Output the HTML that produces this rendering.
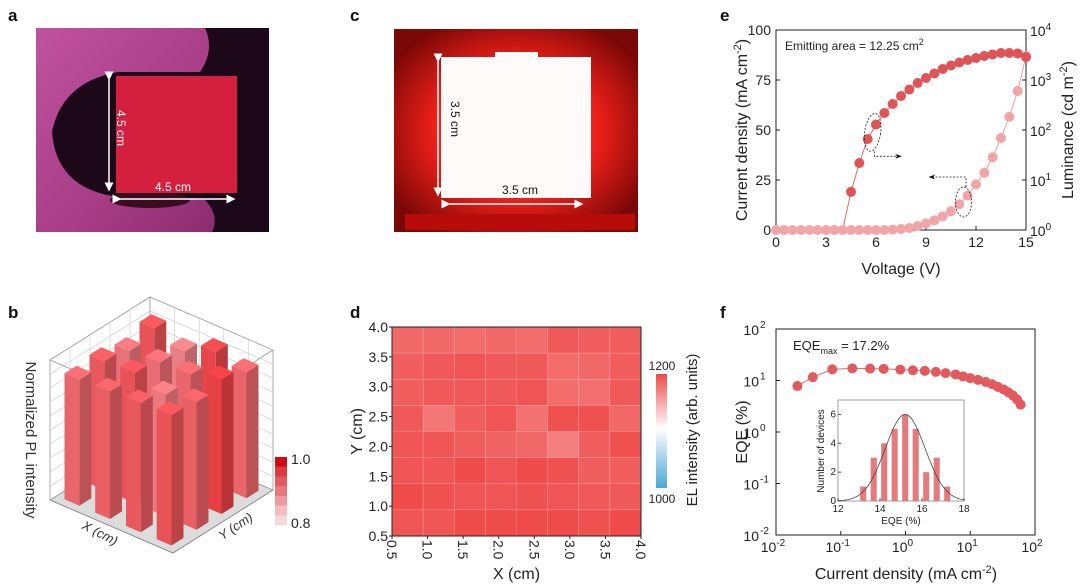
<!DOCTYPE html>
<html><head><meta charset="utf-8"><style>
html,body{margin:0;padding:0;background:#fff}
svg{display:block;font-family:"Liberation Sans",Arial,sans-serif}
</style></head><body>
<svg id="fig" width="1080" height="588" viewBox="0 0 1080 588" xmlns="http://www.w3.org/2000/svg">
<defs>
<linearGradient id="gloveG" x1="0" y1="0" x2="1" y2="1"><stop offset="0" stop-color="#c052a0"/><stop offset="0.6" stop-color="#a83c86"/><stop offset="1" stop-color="#8c2c70"/></linearGradient>
<radialGradient id="cGlow" cx="0.5" cy="0.5" r="0.6"><stop offset="0.55" stop-color="#f0201a"/><stop offset="1" stop-color="#7a0806"/></radialGradient>
<linearGradient id="elBar" x1="0" y1="0" x2="0" y2="1"><stop offset="0" stop-color="#ee4a4a"/><stop offset="0.48" stop-color="#ffffff"/><stop offset="1" stop-color="#4aa6d6"/></linearGradient>
<marker id="arrH" markerWidth="6" markerHeight="6" refX="5" refY="3" orient="auto"><path d="M0,0 L6,3 L0,6 Z" fill="#fff"/></marker>
<marker id="arrB" markerWidth="8" markerHeight="6" refX="7" refY="3" orient="auto"><path d="M0,0 L8,3 L0,6 L2,3 Z" fill="#111"/></marker>
</defs>

<g font-weight="bold" font-size="17" fill="#111">
<text x="8" y="21">a</text>
<text x="350" y="21">c</text>
<text x="720" y="21">e</text>
<text x="8" y="318">b</text>
<text x="350" y="318">d</text>
<text x="720" y="318">f</text>
</g>

<g>
<rect x="36" y="28" width="233" height="204" fill="#1c0818"/>
<path d="M36,28 L205,28 Q215,50 200,72 L118,72 Q62,82 52,132 Q56,186 112,196 L205,200 Q220,216 212,232 L36,232 Z" fill="url(#gloveG)"/>
<ellipse cx="150" cy="200" rx="40" ry="8" fill="#3a0c20"/>
<rect x="116" y="76" width="121" height="117" fill="#d4203e"/>
<line x1="109" y1="79" x2="109" y2="190" stroke="#fff" stroke-width="1.5" marker-end="url(#arrH)" marker-start="url(#arrH)"/>
<line x1="120" y1="199" x2="234" y2="199" stroke="#fff" stroke-width="1.5" marker-end="url(#arrH)" marker-start="url(#arrH)"/>
<text x="155" y="191" font-size="12" fill="#fff">4.5 cm</text>
<text transform="translate(117,110) rotate(90)" font-size="12" fill="#fff">4.5 cm</text>
</g>

<g>
<rect x="394" y="29" width="244" height="203" fill="url(#cGlow)"/>
<rect x="405" y="214" width="230" height="16" fill="#b80c0a"/>
<rect x="441" y="57" width="150" height="141" fill="#fffafa"/>
<rect x="495" y="52" width="43" height="6" fill="#fffafa"/>
<line x1="438" y1="61" x2="438" y2="195" stroke="#fff" stroke-width="1.5" marker-end="url(#arrH)" marker-start="url(#arrH)"/>
<line x1="449" y1="204" x2="582" y2="204" stroke="#fff" stroke-width="1.5" marker-end="url(#arrH)" marker-start="url(#arrH)"/>
<text x="502" y="194" font-size="12" fill="#111">3.5 cm</text>
<text transform="translate(451,101) rotate(90)" font-size="12" fill="#111">3.5 cm</text>
</g>

<g id="panelB"></g>
<g id="panelD"></g>
<g id="panelE"></g>
<g id="panelF"></g>
</svg>
<script>
const NS="http://www.w3.org/2000/svg";
function mk(parent,tag,attrs,text){const e=document.createElementNS(NS,tag);for(const k in attrs)e.setAttribute(k,attrs[k]);if(text!==undefined)e.textContent=text;parent.appendChild(e);return e;}

const eVoltage=[0,0.5,1,1.5,2,2.5,3,3.5,4,4.5,5,5.5,6,6.5,7,7.5,8,8.5,9,9.5,10,10.5,11,11.5,12,12.5,13,13.5,14,14.5,15];
const eCurrent=[0,0,0,0,0,0,0,0,0,0,0,0,0,0,0.2,0.5,1,2,3.3,4.8,6.8,9.4,12.9,17.2,22.8,28.6,36.4,46,56.6,69.5,87];
const eLumVoltage=[4,4.5,5,5.5,6,6.5,7,7.5,8,8.5,9,9.5,10,10.5,11,11.5,12,12.5,13,13.5,14,14.5,15];
const eLuminance=[1,5.8,21.9,66,129,219,331,479,646,871,1096,1349,1660,1950,2240,2510,2750,3020,3240,3470,3470,3390,2880];
const eXTicks=[0,3,6,9,12,15];
const eYTicks=[0,25,50,75,100];
const eY2Exp=[0,1,2,3,4];

const fCurrent=[0.0214,0.037,0.074,0.151,0.284,0.46,0.83,1.30,1.99,2.94,4.16,5.93,7.71,10.0,13.2,17.3,21.6,26.8,32.7,38.7,45.7,52.7,60];
const fEQE=[7.8,11.6,16.5,17.2,17.0,16.8,16.3,15.8,15.4,14.7,13.9,13.1,12.0,11.1,10.3,9.4,8.5,7.5,6.7,5.9,5.1,4.3,3.4];
const fXExp=[-2,-1,0,1,2];
const fYExp=[-2,-1,0,1,2];
const histEQE=[13.2,13.7,14.2,14.7,15.2,15.7,16.2,16.7,17.2];
const histCount=[1,3,4,5,6,5,2,3,1];
const histXTicks=[12,14,16,18];
const histYTicks=[0,2,4,6];
const fitMean=15.2, fitSigma=0.95, fitPeak=6;

const dXTicks=[0.5,1.0,1.5,2.0,2.5,3.0,3.5,4.0];
const dYTicks=[0.5,1.0,1.5,2.0,2.5,3.0,3.5,4.0];
const dRows=[
[1180,1180,1178,1180,1178,1188,1185,1185],
[1185,1188,1190,1188,1188,1178,1180,1185],
[1185,1188,1188,1188,1190,1178,1176,1188],
[1188,1172,1185,1190,1175,1192,1192,1180],
[1190,1190,1185,1182,1180,1168,1185,1192],
[1190,1190,1195,1190,1195,1192,1185,1185],
[1195,1192,1190,1190,1192,1190,1188,1188],
[1190,1190,1195,1195,1195,1195,1192,1195]];

const bPL=[
[0.93,0.86,0.95,0.90],
[0.88,0.89,0.90,0.96],
[0.92,0.93,0.87,0.91],
[0.90,0.91,0.92,0.93]];

(function(){
const g=document.getElementById('panelE');
const L=776,R=1026,T=30,B=230;
const xs=v=>L+(v-0)/15*(R-L);
const ys=v=>B-(v/100)*(B-T);
const ys2=v=>B-(Math.log10(v)/4)*(B-T);
const f=mk(g,'rect',{x:L,y:T,width:R-L,height:B-T,fill:'none',stroke:'#222','stroke-width':1});

eXTicks.forEach(t=>{const x=xs(t);mk(g,'line',{x1:x,y1:B,x2:x,y2:B-4,stroke:'#222'});
 const tx=mk(g,'text',{x:x,y:B+17,'font-size':14,'text-anchor':'middle',fill:'#222'},String(t));
 });
eYTicks.forEach(t=>{const y=ys(t);mk(g,'line',{x1:L,y1:y,x2:L+4,y2:y,stroke:'#222'});
 const tx=mk(g,'text',{x:L-5,y:y+5,'font-size':14,'text-anchor':'end',fill:'#222'},String(t));
 });
eY2Exp.forEach(t=>{const y=B-t/4*(B-T);mk(g,'line',{x1:R,y1:y,x2:R-4,y2:y,stroke:'#222'});
 const tx=mk(g,'text',{x:R+4,y:y+6,'font-size':14,fill:'#222'});
 
 mk(tx,'tspan',{},'10');mk(tx,'tspan',{dy:-6,'font-size':10},String(t));});
let t1=mk(g,'text',{x:(L+R)/2,y:274,'font-size':16,'text-anchor':'middle',fill:'#222'},'Voltage (V)');

let t2=mk(g,'text',{transform:'translate(747,130) rotate(-90)','font-size':16,'text-anchor':'middle',fill:'#222'});

mk(t2,'tspan',{},'Current density (mA cm');mk(t2,'tspan',{dy:-6,'font-size':11},'-2');mk(t2,'tspan',{dy:6},')');
let t3=mk(g,'text',{transform:'translate(1073,130) rotate(-90)','font-size':16,'text-anchor':'middle',fill:'#222'});

mk(t3,'tspan',{},'Luminance (cd m');mk(t3,'tspan',{dy:-6,'font-size':11},'-2');mk(t3,'tspan',{dy:6},')');
let t4=mk(g,'text',{x:785,y:50,'font-size':12,fill:'#222'});

mk(t4,'tspan',{},'Emitting area = 12.25 cm');mk(t4,'tspan',{dy:-5,'font-size':9},'2');
const lp=eLumVoltage.map((v,i)=>xs(v)+','+ys2(eLuminance[i])).join(' ');
const l1=mk(g,'polyline',{points:lp,fill:'none',stroke:'#d86a6a','stroke-width':1});

const cp=eVoltage.map((v,i)=>xs(v)+','+ys(eCurrent[i])).join(' ');
const l2=mk(g,'polyline',{points:cp,fill:'none',stroke:'#eba0a0','stroke-width':1});

eVoltage.forEach((v,i)=>{const c=mk(g,'circle',{cx:xs(v),cy:ys(eCurrent[i]),r:5,fill:'#f2a4a6'});
 });
eLumVoltage.forEach((v,i)=>{if(eLuminance[i]<=1)return;const c=mk(g,'circle',{cx:xs(v),cy:ys2(eLuminance[i]),r:5,fill:'#e05458'});
 });
const e1=mk(g,'ellipse',{cx:xs(5.8),cy:ys2(90),rx:8,ry:19,transform:`rotate(8 ${xs(5.8)} ${ys2(90)})`,fill:'none',stroke:'#222','stroke-width':0.8,'stroke-dasharray':'2,1.5'});

mk(g,'polyline',{points:`${xs(5.9)},${ys2(90)+19} ${xs(5.9)},${ys2(90)+24} ${xs(7.5)},${ys2(90)+24}`,fill:'none',stroke:'#222','stroke-width':0.8,'stroke-dasharray':'2,1.5','marker-end':'url(#arrB)'});
const e2=mk(g,'ellipse',{cx:xs(11.25),cy:ys(14),rx:8,ry:15,fill:'none',stroke:'#222','stroke-width':0.8,'stroke-dasharray':'2,1.5'});

mk(g,'polyline',{points:`${xs(11.4)},${ys(14)-15} ${xs(11.4)},${ys(26.5)} ${xs(9.2)},${ys(26.5)}`,fill:'none',stroke:'#222','stroke-width':0.8,'stroke-dasharray':'2,1.5','marker-end':'url(#arrB)'});
})();

(function(){
const g=document.getElementById('panelF');
const L=776,R=1035,T=329,B=535;
const xs=v=>L+(Math.log10(v)+2)/4*(R-L);
const ys=v=>B-(Math.log10(v)+2)/4*(B-T);
const f=mk(g,'rect',{x:L,y:T,width:R-L,height:B-T,fill:'none',stroke:'#222'});

fXExp.forEach(t=>{const x=L+(t+2)/4*(R-L);mk(g,'line',{x1:x,y1:B,x2:x,y2:B-4,stroke:'#222'});
 const tx=mk(g,'text',{x:x-3,y:B+17,'font-size':14,'text-anchor':'middle',fill:'#222'});
 
 mk(tx,'tspan',{},'10');mk(tx,'tspan',{dy:-6,'font-size':10},String(t));});
fYExp.forEach(t=>{const y=B-(t+2)/4*(B-T);mk(g,'line',{x1:L,y1:y,x2:L+4,y2:y,stroke:'#222'});
 const tx=mk(g,'text',{x:L-17,y:y+6,'font-size':14,'text-anchor':'end',fill:'#222'},'10');
 
 const sp=mk(g,'text',{x:L-16,y:y-1,'font-size':10,fill:'#222'},String(t));
 });
let t1=mk(g,'text',{x:906,y:579,'font-size':16,'text-anchor':'middle',fill:'#222'});

mk(t1,'tspan',{},'Current density (mA cm');mk(t1,'tspan',{dy:-6,'font-size':11},'-2');mk(t1,'tspan',{dy:6},')');
let t2=mk(g,'text',{transform:'translate(747,432) rotate(-90)','font-size':16,'text-anchor':'middle',fill:'#222'},'EQE (%)');

let t3=mk(g,'text',{x:793,y:350,'font-size':13,fill:'#222'});

mk(t3,'tspan',{},'EQE');mk(t3,'tspan',{dy:4,'font-size':9},'max');mk(t3,'tspan',{dy:-4},' = 17.2%');
const pts=fCurrent.map((v,i)=>xs(v)+','+ys(fEQE[i])).join(' ');
const ln=mk(g,'polyline',{points:pts,fill:'none',stroke:'#e06a6a','stroke-width':1});

fCurrent.forEach((v,i)=>{const c=mk(g,'circle',{cx:xs(v),cy:ys(fEQE[i]),r:5,fill:'#e35a5e'});
 });
const iL=838,iR=964,iT=400,iB=501;
const hx=v=>iL+(v-12)/6*(iR-iL);
const hy=v=>iB-v/7*(iB-iT);
const ib=mk(g,'rect',{x:iL,y:iT,width:iR-iL,height:iB-iT,fill:'#fff',stroke:'#888','stroke-width':0.8});

histEQE.forEach((v,i)=>{const w=0.29/6*(iR-iL);const r=mk(g,'rect',{x:hx(v)-w/2,y:hy(histCount[i]),width:w,height:iB-hy(histCount[i]),fill:'#e57a7e'});
 });
let gp=[];for(let k=0;k<=60;k++){const x=12+k*0.1;gp.push(hx(x)+','+hy(fitPeak*Math.exp(-Math.pow(x-fitMean,2)/(2*fitSigma*fitSigma))));}
const fit=mk(g,'polyline',{points:gp.join(' '),fill:'none',stroke:'#444','stroke-width':0.8});

histXTicks.forEach(t=>{const x=hx(t);mk(g,'line',{x1:x,y1:iB,x2:x,y2:iB-3,stroke:'#444'});
 const tx=mk(g,'text',{x:x,y:iB+11,'font-size':10,'text-anchor':'middle',fill:'#222'},String(t));
 });
histYTicks.forEach(t=>{const y=hy(t);mk(g,'line',{x1:iL,y1:y,x2:iL+3,y2:y,stroke:'#444'});
 const tx=mk(g,'text',{x:iL-2,y:y+3,'font-size':10,'text-anchor':'end',fill:'#222'},String(t));
 });
let t5=mk(g,'text',{x:901,y:524,'font-size':10,'text-anchor':'middle',fill:'#222'},'EQE (%)');

let t6=mk(g,'text',{transform:'translate(824,451) rotate(-90)','font-size':10,'text-anchor':'middle',fill:'#222'},'Number of devices');

})();

(function(){
const g=document.getElementById('panelD');
const L=392,R=641,T=327,B=536;
const xs=v=>L+(v-0.5)/3.5*(R-L);
const ys=v=>B-(v-0.5)/3.5*(B-T);
function col(v){const t=(v-1000)/200;let a,b,s;
 if(t>=0.5){s=(t-0.5)/0.5;a=[255,255,255];b=[238,66,66];}else{s=t/0.5;a=[74,166,214];b=[255,255,255];}
 return 'rgb('+a.map((c,i)=>Math.round(c+(b[i]-c)*s)).join(',')+')';}
const n=dRows.length,m=dRows[0].length;
dRows.forEach((row,r)=>row.forEach((v,c)=>{
 const x0=xs(0.5+c*3.5/m),x1=xs(0.5+(c+1)*3.5/m),y0=ys(4.0-r*3.5/n),y1=ys(4.0-(r+1)*3.5/n);
 const rc=mk(g,'rect',{x:x0,y:y0,width:x1-x0,height:y1-y0,fill:col(v),stroke:'rgba(255,255,255,0.18)','stroke-width':0.6});
 }));
const f=mk(g,'rect',{x:L,y:T,width:R-L,height:B-T,fill:'none',stroke:'#222'});

dYTicks.forEach(t=>{const y=ys(t);mk(g,'line',{x1:L,y1:y,x2:L-3,y2:y,stroke:'#222'});
 const tx=mk(g,'text',{x:L-4,y:y+5,'font-size':14,'text-anchor':'end',fill:'#222'},t.toFixed(1));
 });
dXTicks.forEach(t=>{const x=xs(t);mk(g,'line',{x1:x,y1:B,x2:x,y2:B+3,stroke:'#222'});
 const tx=mk(g,'text',{transform:`translate(${x-5},${B+4}) rotate(90)`,'font-size':14,fill:'#222'},t.toFixed(1));
 });
let t1=mk(g,'text',{x:(L+R)/2,y:579,'font-size':16,'text-anchor':'middle',fill:'#222'},'X (cm)');

let t2=mk(g,'text',{transform:`translate(362,${(T+B)/2}) rotate(-90)`,'font-size':16,'text-anchor':'middle',fill:'#222'},'Y (cm)');

const cb=mk(g,'rect',{x:656,y:374,width:11,height:114,fill:'url(#elBar)'});

let c1=mk(g,'text',{x:662,y:370,'font-size':12,'text-anchor':'middle',fill:'#222'},'1200');

let c2=mk(g,'text',{x:662,y:503,'font-size':12,'text-anchor':'middle',fill:'#222'},'1000');

let c3=mk(g,'text',{transform:'translate(697,430) rotate(-90)','font-size':15,'text-anchor':'middle',fill:'#222'},'EL intensity (arb. units)');

})();

(function(){
const g=document.getElementById('panelB');
const Bp=[150,437],Lp=[50,500],Rp=[273,490],H=140;
const P=(u,v,z)=>[Bp[0]+u*(Lp[0]-Bp[0])+v*(Rp[0]-Bp[0]), Bp[1]+u*(Lp[1]-Bp[1])+v*(Rp[1]-Bp[1])-z*H];
const pstr=a=>a.map(p=>p[0].toFixed(1)+','+p[1].toFixed(1)).join(' ');
const fl=mk(g,'polygon',{points:pstr([P(0,0,0),P(1,0,0),P(1,1,0),P(0,1,0)]),fill:'#dcdcdc',stroke:'#999','stroke-width':0.8});

mk(g,'polygon',{points:pstr([P(0,0,0),P(1,0,0),P(1,0,1),P(0,0,1)]),fill:'#fff',stroke:'#999','stroke-width':0.8});
mk(g,'polygon',{points:pstr([P(0,0,0),P(0,1,0),P(0,1,1),P(0,0,1)]),fill:'#fff',stroke:'#999','stroke-width':0.8});
for(let k=1;k<10;k++){const z=k/10;
 mk(g,'polyline',{points:pstr([P(1,0,z),P(0,0,z),P(0,1,z)]),fill:'none',stroke:'#c8c8c8','stroke-width':0.6});}
for(let k=1;k<5;k++){const s=k/5;
 mk(g,'line',{x1:P(s,0,0)[0],y1:P(s,0,0)[1],x2:P(s,0,1)[0],y2:P(s,0,1)[1],stroke:'#c8c8c8','stroke-width':0.6});
 mk(g,'line',{x1:P(0,s,0)[0],y1:P(0,s,0)[1],x2:P(0,s,1)[0],y2:P(0,s,1)[1],stroke:'#c8c8c8','stroke-width':0.6});}
mk(g,'polyline',{points:pstr([P(1,0,1),P(1,1,1),P(0,1,1)]),fill:'none',stroke:'#999','stroke-width':0.8});
function shade(v,k){const t=Math.max(0,Math.min(1,(v-0.8)/0.2));
 const lo=[242,170,176],hi=[236,40,44];return 'rgb('+lo.map((c,i)=>Math.min(255,Math.round((c+(hi[i]-c)*t)*k))).join(',')+')';}
const bars=[];
bPL.forEach((row,i)=>row.forEach((v,j)=>bars.push({i,j,v})));
bars.sort((a,b)=>(a.i+a.j)-(b.i+b.j));
const hw=0.06;
bars.forEach(b=>{const u=(b.i+0.5)/4,v=(b.j+0.5)/4,z=b.v;
 const u0=u-hw,u1=u+hw,v0=v-hw,v1=v+hw;
 const grp=mk(g,'g',{});
 
 mk(grp,'polygon',{points:pstr([P(u1,v0,0),P(u1,v1,0),P(u1,v1,z),P(u1,v0,z)]),fill:shade(b.v,0.97)});
 mk(grp,'polygon',{points:pstr([P(u0,v1,0),P(u1,v1,0),P(u1,v1,z),P(u0,v1,z)]),fill:shade(b.v,0.78)});
 mk(grp,'polygon',{points:pstr([P(u0,v0,z),P(u1,v0,z),P(u1,v1,z),P(u0,v1,z)]),fill:shade(b.v,1.05)});
});
mk(g,'polyline',{points:pstr([P(1,0,0),P(1,1,0),P(0,1,0)]),fill:'none',stroke:'#888','stroke-width':0.8});
let t1=mk(g,'text',{transform:'translate(26,440) rotate(90)','font-size':15,'text-anchor':'middle',fill:'#333'},'Normalized PL intensity');

let t2=mk(g,'text',{transform:'translate(98,537) rotate(27)','font-size':13,'font-style':'italic','text-anchor':'middle',fill:'#333'},'X (cm)');

let t3=mk(g,'text',{transform:'translate(238,530) rotate(-34)','font-size':13,'font-style':'italic','text-anchor':'middle',fill:'#333'},'Y (cm)');

const cbc=['#d00a10','#dc3a40','#e25a62','#e8787e','#ee9aa0','#f2bcc0','#f5d8da'];
cbc.forEach((c,k)=>{const r=mk(g,'rect',{x:275,y:457+k*(68/7),width:12,height:68/7+0.3,fill:c});
 });
let c1=mk(g,'text',{x:291,y:464,'font-size':14,fill:'#222'},'1.0');

let c2=mk(g,'text',{x:291,y:528,'font-size':14,fill:'#222'},'0.8');

})();
</script>
</body></html>
